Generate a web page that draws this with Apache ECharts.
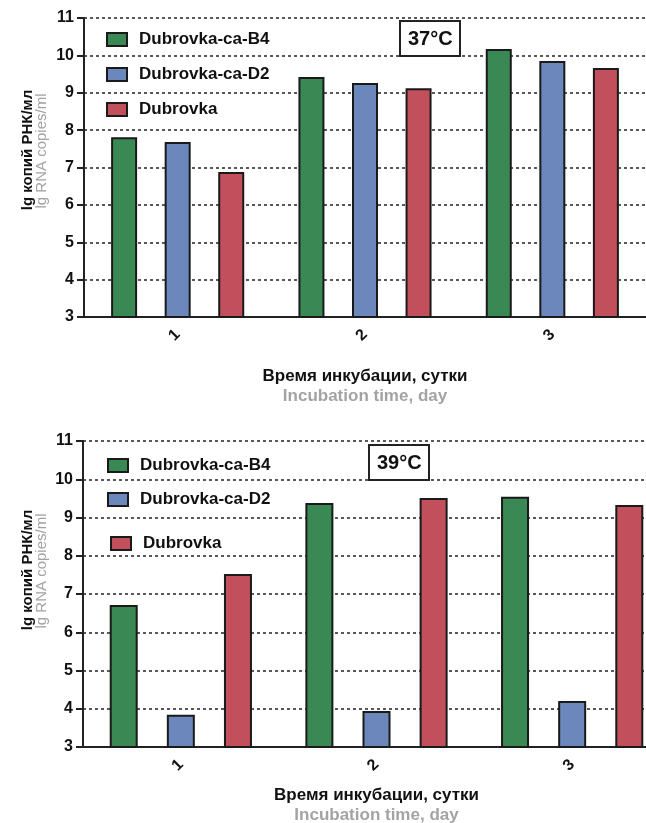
<!DOCTYPE html>
<html>
<head>
<meta charset="utf-8">
<script src="https://cdn.jsdelivr.net/npm/echarts@6/dist/echarts.min.js"></script>
<style>
  html, body { margin: 0; padding: 0; background: #fff; }
  #chart { width: 646px; height: 823px; }
</style>
</head>
<body>
<div id="chart"></div>
<script>
// incubation days
const days = ['1', '2', '3']
const strains = ['Dubrovka-ca-B4', 'Dubrovka-ca-D2', 'Dubrovka']

// lg RNA copies/ml at 37°C
const b4At37 = [7.81, 9.42, 10.17]
const d2At37 = [7.68, 9.26, 9.85]
const wtAt37 = [6.88, 9.12, 9.66]

// lg RNA copies/ml at 39°C
const b4At39 = [6.71, 9.38, 9.54]
const d2At39 = [3.84, 3.94, 4.20]
const wtAt39 = [7.52, 9.51, 9.33]

const yMin = 3
const yMax = 11

const FONT = '"Liberation Sans", Arial, sans-serif'
const colors = ['#3a8954', '#6c87bb', '#c1505c']

const chart = echarts.init(document.getElementById('chart'))

function xAxisFor(gridIndex, nameGap) {
  return {
    type: 'category',
    gridIndex: gridIndex,
    data: days,
    axisLine: { lineStyle: { color: '#222', width: 2 } },
    axisTick: { alignWithLabel: true, length: 6, lineStyle: { color: '#222', width: 2 } },
    axisLabel: { rotate: 45, margin: 15, color: '#111', fontSize: 16, fontWeight: 'bold', fontFamily: FONT },
    name: '{a|Время инкубации, сутки}\n{b|Incubation time, day}',
    nameLocation: 'middle',
    nameGap: nameGap,
    nameTextStyle: {
      fontFamily: FONT,
      rich: {
        a: { fontSize: 17, fontWeight: 'bold', color: '#111', lineHeight: 20, fontFamily: FONT },
        b: { fontSize: 17, fontWeight: 'bold', color: '#a3a3a3', lineHeight: 20, fontFamily: FONT }
      }
    }
  }
}

function yAxisFor(gridIndex) {
  return {
    type: 'value',
    gridIndex: gridIndex,
    min: yMin,
    max: yMax,
    interval: 1,
    axisLine: { show: true, lineStyle: { color: '#222', width: 2 } },
    axisTick: { show: true, length: 7, lineStyle: { color: '#222', width: 2 } },
    axisLabel: { margin: 10, color: '#111', fontSize: 16, fontWeight: 'bold', fontFamily: FONT },
    splitLine: { lineStyle: { color: '#222', width: 1.5, type: [3, 3] } }
  }
}

function barSeries(name, data, idx, axisIndex, width, gap) {
  return {
    name: name,
    type: 'bar',
    xAxisIndex: axisIndex,
    yAxisIndex: axisIndex,
    data: data,
    barWidth: width,
    barGap: gap,
    itemStyle: { color: colors[idx], borderColor: '#1a1a1a', borderWidth: 2 }
  }
}

function legendItem(name, left, top) {
  return {
    data: [name],
    left: left,
    top: top,
    padding: 0,
    icon: 'rect',
    itemWidth: 20,
    itemHeight: 13,
    textStyle: { fontSize: 17, fontWeight: 'bold', color: '#111', fontFamily: FONT, padding: [0, 0, 0, 7] }
  }
}

function tempBox(text, left, top) {
  return {
    text: text,
    left: left,
    top: top,
    padding: [8, 8, 7, 8],
    borderWidth: 2,
    borderColor: '#222',
    textStyle: { fontSize: 20, fontWeight: 'bold', color: '#111', fontFamily: FONT }
  }
}

function yTitle(x, y, text, color, weight) {
  return {
    type: 'text',
    x: x,
    y: y,
    rotation: Math.PI / 2,
    style: {
      text: text,
      fill: color,
      fontSize: 15,
      fontWeight: weight,
      fontFamily: FONT,
      align: 'center',
      verticalAlign: 'middle',
      textAlign: 'center',
      textVerticalAlign: 'middle'
    }
  }
}

chart.setOption({
  animation: false,
  backgroundColor: '#fff',
  title: [
    tempBox('37°C', 400, 21),
    tempBox('39°C', 369, 445)
  ],
  legend: [
    legendItem(strains[0], 106, 31),
    legendItem(strains[1], 106, 66),
    legendItem(strains[2], 106, 101),
    legendItem(strains[0], 107, 457),
    legendItem(strains[1], 107, 491),
    legendItem(strains[2], 110, 535)
  ],
  grid: [
    { left: 84, top: 18, width: 562, height: 299, outerBoundsMode: 'none', containLabel: false },
    { left: 83, top: 441, width: 587, height: 306, outerBoundsMode: 'none', containLabel: false }
  ],
  xAxis: [xAxisFor(0, 49), xAxisFor(1, 38)],
  yAxis: [yAxisFor(0), yAxisFor(1)],
  graphic: [
    yTitle(28, 150, 'lg копий РНК/мл', '#111', 'bold'),
    yTitle(42, 151, 'lg RNA copies/ml', '#a3a3a3', 'normal'),
    yTitle(28, 570, 'lg копий РНК/мл', '#111', 'bold'),
    yTitle(42, 571, 'lg RNA copies/ml', '#a3a3a3', 'normal')
  ],
  series: [
    barSeries(strains[0], b4At37, 0, 0, 26, '106%'),
    barSeries(strains[1], d2At37, 1, 0, 26, '106%'),
    barSeries(strains[2], wtAt37, 2, 0, 26, '106%'),
    barSeries(strains[0], b4At39, 0, 1, 28, '104%'),
    barSeries(strains[1], d2At39, 1, 1, 28, '104%'),
    barSeries(strains[2], wtAt39, 2, 1, 28, '104%')
  ]
})
</script>
</body>
</html>
